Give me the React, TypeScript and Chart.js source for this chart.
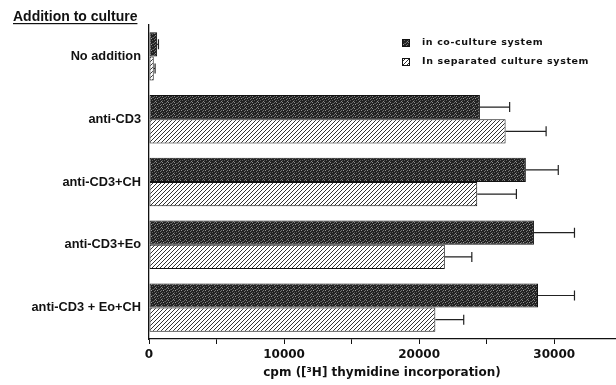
import React, { useEffect, useRef } from 'react';
import { Chart, registerables } from 'chart.js';
Chart.register(...registerables);

const categories = ['No addition', 'anti-CD3', 'anti-CD3+CH', 'anti-CD3+Eo', 'anti-CD3 + Eo+CH'];
const seriesNames = ['in co-culture system', 'In separated culture system'];
const coCulture = [600, 24500, 27900, 28500, 28800];
const coCultureErr = [100, 2200, 2400, 3000, 2700];
const separated = [350, 26400, 24300, 21900, 21200];
const separatedErr = [100, 3000, 2900, 2000, 2100];
const xTickValues = [0, 5000, 10000, 15000, 20000, 25000, 30000];
const xTickLabels = [0, 10000, 20000, 30000];
const xMax = 34500;
const groupTitle = 'Addition to culture';
const xTitle = 'cpm ([³H] thymidine incorporation)';

function makeDark(): CanvasPattern | string {
  const c = document.createElement('canvas');
  c.width = 6; c.height = 6;
  const g = c.getContext('2d');
  if (!g) return '#2a2a2a';
  g.fillStyle = '#222222';
  g.fillRect(0, 0, 6, 6);
  const pts: [number, number, string][] = [
    [0, 0, '#8a8a8a'], [3, 1, '#6a6a6a'], [1, 2, '#9a9a9a'], [4, 3, '#777'], [2, 4, '#5c5c5c'],
    [5, 5, '#8f8f8f'], [0, 4, '#555'], [4, 0, '#666'], [2, 1, '#505050'], [5, 2, '#707070'],
  ];
  for (const [x, y, col] of pts) { g.fillStyle = col; g.fillRect(x, y, 1, 1); }
  const p = g.createPattern(c, 'repeat');
  return p || '#2a2a2a';
}

function makeHatch(): CanvasPattern | string {
  const c = document.createElement('canvas');
  c.width = 4; c.height = 4;
  const g = c.getContext('2d');
  if (!g) return '#fff';
  g.fillStyle = '#ffffff';
  g.fillRect(0, 0, 4, 4);
  g.fillStyle = '#333333';
  for (let i = 0; i < 4; i++) g.fillRect(i, 3 - i, 1, 1);
  const p = g.createPattern(c, 'repeat');
  return p || '#fff';
}

const errorBarPlugin = {
  id: 'errorBars',
  afterDatasetsDraw(chart: any) {
    const ctx = chart.ctx;
    const xs = chart.scales.x;
    chart.data.datasets.forEach((ds: any, i: number) => {
      const meta = chart.getDatasetMeta(i);
      meta.data.forEach((bar: any, j: number) => {
        const v = ds.data[j];
        const e = ds.errors[j];
        const x1 = xs.getPixelForValue(v);
        const x2 = xs.getPixelForValue(v + e);
        const y = bar.y;
        ctx.save();
        ctx.strokeStyle = '#222';
        ctx.lineWidth = 1.2;
        ctx.beginPath();
        ctx.moveTo(x1, y);
        ctx.lineTo(x2, y);
        ctx.moveTo(x2, y - 5);
        ctx.lineTo(x2, y + 5);
        ctx.stroke();
        ctx.restore();
      });
    });
  },
};

const decorPlugin = {
  id: 'decor',
  afterDraw(chart: any) {
    const ctx = chart.ctx;
    ctx.save();
    ctx.fillStyle = '#111';
    ctx.font = 'bold 14px Arial';
    ctx.textBaseline = 'alphabetic';
    ctx.textAlign = 'left';
    ctx.fillText(groupTitle, 13, 21);
    const w = ctx.measureText(groupTitle).width;
    ctx.fillRect(13, 23, w, 1.2);
    const fills = chart.data.datasets.map((d: any) => d.backgroundColor);
    const ys = [43, 62];
    ctx.font = 'bold 9.5px "DejaVu Sans"';
    try { (ctx as any).letterSpacing = '0.6px'; } catch (e) { /* ignore */ }
    ctx.textBaseline = 'middle';
    seriesNames.forEach((name, i) => {
      ctx.fillStyle = fills[i];
      ctx.fillRect(402, ys[i] - 4, 8, 8);
      ctx.strokeStyle = '#111';
      ctx.lineWidth = 1;
      ctx.strokeRect(402.5, ys[i] - 3.5, 7, 7);
      ctx.fillStyle = '#111';
      ctx.fillText(name, 422, ys[i]);
    });
    try { (ctx as any).letterSpacing = '0px'; } catch (e) { /* ignore */ }
    ctx.restore();
  },
};

export default function App() {
  const ref = useRef<HTMLCanvasElement | null>(null);
  useEffect(() => {
    if (!ref.current) return;
    const dark = makeDark();
    const hatch = makeHatch();
    const chart = new Chart(ref.current, {
      type: 'bar',
      data: {
        labels: categories,
        datasets: [
          { label: seriesNames[0], data: coCulture, errors: coCultureErr, backgroundColor: dark, borderColor: '#111', borderWidth: 1, borderSkipped: false } as any,
          { label: seriesNames[1], data: separated, errors: separatedErr, backgroundColor: hatch, borderColor: '#111', borderWidth: 1, borderSkipped: false } as any,
        ],
      },
      options: {
        indexAxis: 'y',
        responsive: false,
        animation: false,
        devicePixelRatio: 1,
        layout: { padding: { top: 25, right: 1, left: 0, bottom: 0 } },
        datasets: { bar: { categoryPercentage: 0.77, barPercentage: 1.0 } },
        plugins: { legend: { display: false }, tooltip: { enabled: false }, title: { display: false } },
        scales: {
          x: {
            type: 'linear',
            min: 0,
            max: xMax,
            afterBuildTicks: (s: any) => { s.ticks = xTickValues.map((v) => ({ value: v })); },
            afterFit: (s: any) => { s.height = 46; },
            ticks: {
              autoSkip: false,
              maxRotation: 0,
              minRotation: 0,
              padding: 4,
              color: '#111',
              font: { family: '"DejaVu Sans"', size: 12, weight: 'bold' },
              callback: (v: any) => (xTickLabels.includes(Number(v)) ? String(v) : ''),
            },
            grid: { drawOnChartArea: false, drawTicks: true, tickLength: 5, color: '#111', lineWidth: 1 },
            border: { display: true, color: '#111', width: 1.3 },
            title: {
              display: true,
              text: xTitle,
              color: '#111',
              font: { family: '"DejaVu Sans"', size: 12, weight: 'bold' },
              padding: { top: 6, bottom: 5 },
            },
          },
          y: {
            type: 'category',
            afterFit: (s: any) => { s.width = 149; },
            ticks: {
              padding: 8,
              color: '#111',
              font: { family: 'Arial', size: 12.8, weight: 'bold' },
            },
            grid: { display: false, drawTicks: false },
            border: { display: true, color: '#111', width: 1.3 },
          },
        },
      } as any,
      plugins: [errorBarPlugin, decorPlugin],
    });
    return () => chart.destroy();
  }, []);
  return (
    <div style={{ position: 'absolute', left: 0, top: 0, width: 616, height: 385, background: '#fff' }}>
      <canvas ref={ref} width={616} height={385} style={{ display: 'block' }} />
    </div>
  );
}
